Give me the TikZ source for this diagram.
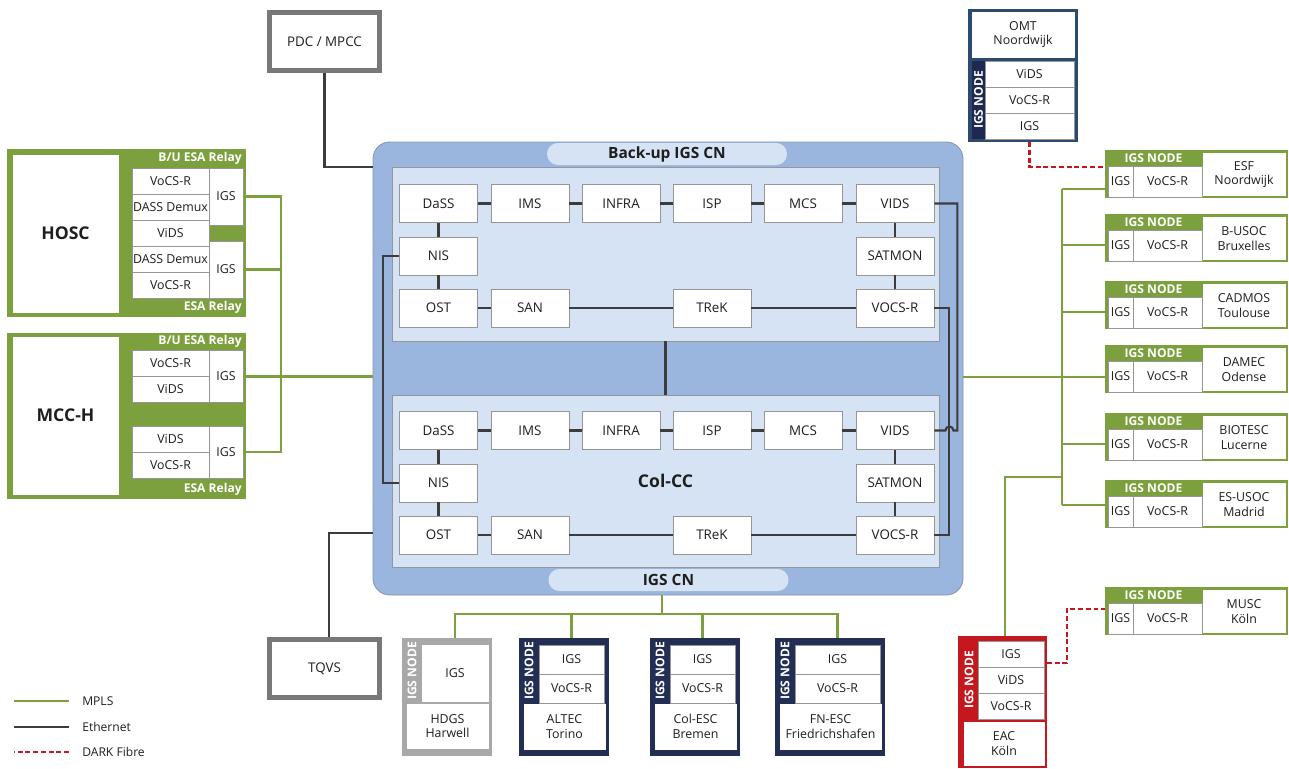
\documentclass[tikz,border=0pt]{standalone}
\usepackage{fontspec}
\setmainfont{Open Sans}

\newcommand{\pxu}{0.025cm}
\newcommand{\cellfont}{\fontsize{8.8}{10.2}\selectfont}
\newcommand{\svcfont}{\fontsize{9.5}{11}\selectfont}
\newcommand{\headfont}{\bfseries\fontsize{11}{13}\selectfont}
\newcommand{\sitefont}{\bfseries\fontsize{12.5}{15}\selectfont}
\newcommand{\tagfont}{\bfseries\fontsize{8.6}{10}\selectfont}
\newcommand{\legendfont}{\fontsize{8.6}{10}\selectfont}

\definecolor{mpls}{RGB}{125,160,62}
\definecolor{ethgray}{RGB}{60,60,60}
\definecolor{fibrered}{RGB}{196,24,30}
\definecolor{cnblue}{RGB}{154,182,222}
\definecolor{cnedge}{RGB}{130,150,180}
\definecolor{cnlight}{RGB}{213,227,245}
\definecolor{omtblue}{RGB}{44,74,110}
\definecolor{bandnavy}{RGB}{30,40,80}
\definecolor{navy}{RGB}{35,46,84}
\definecolor{eacred}{RGB}{196,24,30}
\definecolor{hdgsgray}{RGB}{168,168,168}
\definecolor{termgray}{RGB}{120,120,120}
\definecolor{cellgray}{RGB}{150,150,150}
\definecolor{textgray}{RGB}{30,30,30}

\begin{document}
\begin{tikzpicture}[x=0.025cm, y=-0.025cm,
  cell/.style 2 args={rectangle, draw=cellgray, line width=0.6pt, fill=white, inner sep=0pt, align=center,
    text=textgray, minimum width=(#1)*\pxu, minimum height=(#2)*\pxu, font=\cellfont},
  block/.style 2 args={rectangle, inner sep=0pt, minimum width=(#1)*\pxu, minimum height=(#2)*\pxu},
  svc/.style={cell={78}{38}, font=\svcfont},
  term/.style={cell={110}{58}, draw=termgray, line width=3.6pt, font=\svcfont},
  pill/.style={block={240}{22}, fill=cnlight, rounded corners=0.27cm, font=\headfont, text=textgray},
  hdr/.style={inner sep=0pt, text=white, font=\tagfont},
  relay/.style={hdr, anchor=east},
  band/.style={hdr, rotate=90},
  eth/.style={draw=ethgray, line width=1.5pt},
  mplsline/.style={draw=mpls, line width=1.9pt},
  fibre/.style={draw=fibrered, line width=2pt, dash pattern=on 3.5pt off 2pt},
  legend/.style={anchor=west, inner sep=0pt, text=textgray, font=\legendfont}]
  \useasboundingbox (0,0) rectangle (1289,769);

  % central IGS CN
  \node[block={590}{453}, fill=cnblue, draw=cnedge, line width=0.6pt, rounded corners=0.42cm] (cn) at (668,368.5) {};
  \node[pill] (bucn) at (667,154) {Back-up IGS CN};
  \node[pill] (igscn) at (668.5,580) {IGS CN};
  \node[cell={547}{174}, fill=cnlight, draw=cellgray] (bpanel) at (665.5,254) {};
  \node[cell={547}{172}, fill=cnlight, draw=cellgray, font=\sitefont] (cpanel) at (665.5,481) {Col-CC};

  \foreach \pre/\dy in {b/0, c/227} {
    \foreach \nm/\x in {DaSS/438.5, IMS/530, INFRA/621, ISP/712, MCS/803, VIDS/895}
      \node[svc] (\pre\nm) at (\x,203.5+\dy) {\nm};
    \node[svc] (\pre NIS) at (438.5,256+\dy) {NIS};
    \node[svc] (\pre SATMON) at (895,256+\dy) {SATMON};
    \node[svc] (\pre OST) at (438.5,308+\dy) {OST};
    \node[svc] (\pre SAN) at (530,308+\dy) {SAN};
    \node[svc] (\pre TReK) at (712,308+\dy) {TReK};
    \node[svc] (\pre VOCSR) at (895,308+\dy) {VOCS-R};
    \foreach \a/\b in {DaSS/IMS, IMS/INFRA, INFRA/ISP, ISP/MCS, MCS/VIDS, DaSS/NIS, NIS/OST,
                       OST/SAN, SAN/TReK, TReK/VOCSR, VIDS/SATMON, SATMON/VOCSR}
      \draw[eth] (\pre\a) -- (\pre\b);
  }
  \draw[eth] (bpanel) -- (cpanel);
  \draw[eth] (bNIS.west) -- ++(-16,0) |- (cNIS.west);
  \draw[eth] (bVOCSR.east) -- ++(15,0) |- (cVOCSR.east);
  \draw[eth] (bVIDS.east) -- ++(23,0) -- ++(0,227) -- ++(-4,0)
    arc[start angle=0, end angle=180, radius=0.1cm] -- (cVIDS.east);

  % PDC and TQVS
  \node[term] (pdc) at (324.5,41.5) {PDC / MPCC};
  \node[term] (tqvs) at (324.5,668.5) {TQVS};
  \coordinate (pdcin) at (373,167);
  \coordinate (tqvsin) at (373,533);
  \draw[eth] (pdc) |- (pdcin);
  \draw[eth] ([xshift=0.11cm]tqvs.north) |- (tqvsin);

  % HOSC
  \node[block={239}{168}, fill=mpls] (hosc) at (126.5,233) {};
  \node[cell={105}{157}, draw=white, font=\sitefont] (hoscname) at (65.5,233.5) {HOSC};
  \node[relay] (hoscbu) at (242,158.5) {B/U ESA Relay};
  \node[relay] (hoscesa) at (242,307.5) {ESA Relay};
  \foreach \nm/\y [count=\i] in {VoCS-R/181, DASS Demux/207, ViDS/233, DASS Demux/259, VoCS-R/285}
    \node[cell={77}{26}] (hosc\i) at (170.5,\y) {\nm};
  \node[cell={34}{57}] (hoscIGSa) at (226,196.5) {IGS};
  \node[cell={34}{57}] (hoscIGSb) at (226,269.5) {IGS};

  % MCC-H
  \node[block={239}{166}, fill=mpls] (mcch) at (126.5,416) {};
  \node[cell={105}{157}, draw=white, font=\sitefont] (mcchname) at (65.5,415.5) {MCC-H};
  \node[relay] (mcchbu) at (242,341) {B/U ESA Relay};
  \node[relay] (mcchesa) at (242,489) {ESA Relay};
  \foreach \nm/\y [count=\i] in {VoCS-R/363.5, ViDS/389.5, ViDS/439, VoCS-R/465}
    \node[cell={77}{26}] (mcch\i) at (170.5,\y) {\nm};
  \node[cell={34}{52}] (mcchIGSa) at (226,376.5) {IGS};
  \node[cell={34}{52}] (mcchIGSb) at (226,452) {IGS};

  \coordinate (lbusT) at (281,196.5);
  \coordinate (lbusB) at (281,452);
  \draw[mplsline] (hoscIGSa) -- (lbusT) -- (lbusB) -- (mcchIGSb);
  \draw[mplsline] (hoscIGSb) -- (hoscIGSb -| lbusT);
  \draw[mplsline] (mcchIGSa) -- (mcchIGSa -| cn.west);

  % OMT
  \node[block={110}{133}, fill=omtblue] (omt) at (1023,75.5) {};
  \node[cell={102}{45}, draw=white] (omtname) at (1023,34.5) {OMT\\Noordwijk};
  \node[block={13}{78}, fill=bandnavy] (omtband) at (978.5,100) {};
  \node[band] (omtlbl) at (978.5,100) {IGS NODE};
  \foreach \nm/\y [count=\i] in {ViDS/74, VoCS-R/100, IGS/126}
    \node[cell={89}{26}] (omt\i) at (1029.5,\y) {\nm};

  % right-hand IGS nodes
  \foreach \id/\t/\nm in {esf/150/{ESF\\Noordwijk}, busoc/214/{B-USOC\\Bruxelles},
      cadmos/281/{CADMOS\\Toulouse}, damec/345/{DAMEC\\Odense}, biotesc/413/{BIOTESC\\Lucerne},
      esusoc/480/{ES-USOC\\Madrid}, musc/587/{MUSC\\Köln}} {
    \node[block={183}{48}, fill=mpls] (\id frame) at (1196.5,\t+24) {};
    \node[hdr] (\id hdr) at (1153.5,\t+8) {IGS NODE};
    \node[cell={25}{31}] (\id igs) at (1120.5,\t+31.5) {IGS};
    \node[cell={69}{31}] (\id vocs) at (1167.5,\t+31.5) {VoCS-R};
    \node[cell={82}{42}, draw=white] (\id name) at (1244,\t+24.5) {\nm};
  }
  \foreach \id/\y in {esf/189, busoc/245, cadmos/312, damec/377, biotesc/444, esusoc/505}
    \coordinate (\id br) at (1062,\y);
  \draw[mplsline] (esfbr) -- (esusocbr);
  \draw[mplsline] (damecbr -| cn.east) -- (damecbr);
  \foreach \id in {esf, busoc, cadmos, damec, biotesc, esusoc}
    \draw[mplsline] (\id br) -- (\id br -| \id frame.west);

  % EAC
  \node[block={89}{132}, fill=eacred] (eacframe) at (1002.5,702) {};
  \node[band] (eaclbl) at (969,680) {IGS NODE};
  \foreach \nm/\y [count=\i] in {IGS/654, ViDS/680, VoCS-R/706}
    \node[cell={66}{26}] (eac\i) at (1011,\y) {\nm};
  \node[cell={80}{43}, draw=white] (eacname) at (1004,743.5) {EAC\\Köln};
  \coordinate (eacjoin) at (1062,477);
  \draw[mplsline] (eacjoin) -| ([xshift=0.06cm]eacframe.north);

  % dark fibre links
  \coordinate (esfdf) at (1105,167);
  \draw[fibre] (omt.south -| omt3) |- (esfdf);
  \coordinate (eacdf) at (1047,663);
  \coordinate (muscdf) at (1105,609);
  \draw[fibre] (eacdf) -- ++(20,0) |- (muscdf);

  % bottom IGS nodes
  \node[block={90}{118}, fill=hdgsgray] (hdgsframe) at (447,697) {};
  \node[band] (hdgslbl) at (412,671) {IGS NODE};
  \node[cell={66}{56}, draw=white] (hdgsigs) at (455,673) {IGS};
  \node[cell={81}{44}, draw=white] (hdgsname) at (447.5,726) {HDGS\\Harwell};
  \foreach \id/\x/\w/\nm in {altec/564/90/{ALTEC\\Torino}, colesc/695/90/{Col-ESC\\Bremen},
      fnesc/830/110/{FN-ESC\\Friedrichshafen}} {
    \node[block={\w}{118}, fill=navy] (\id frame) at (\x,697) {};
    \node[band] (\id lbl) at (\x-\w/2+10,671) {IGS NODE};
    \node[cell={\w-25}{29}] (\id igs) at (\x+7.5,659.5) {IGS};
    \node[cell={\w-25}{29}] (\id vocs) at (\x+7.5,688.5) {VoCS-R};
    \node[cell={\w-9}{45}, draw=white] (\id name) at (\x+0.5,726.5) {\nm};
  }
  \coordinate (bbus) at (662,614);
  \draw[mplsline] (cn.south -| bbus) -- (bbus);
  \foreach \id in {hdgs, altec, colesc, fnesc}
    \draw[mplsline] (\id igs |- \id frame.north) |- (bbus);

  % legend
  \node[legend] (lgmpls) at (82,701) {MPLS};
  \node[legend] (lgeth) at (82,727) {Ethernet};
  \node[legend] (lgfibre) at (82,752) {DARK Fibre};
  \draw[mplsline] (lgmpls.west) ++(-13,0) -- ++(-55,0);
  \draw[eth] (lgeth.west) ++(-13,0) -- ++(-55,0);
  \draw[fibre] (lgfibre.west) ++(-13,0) -- ++(-55,0);
\end{tikzpicture}
\end{document}
